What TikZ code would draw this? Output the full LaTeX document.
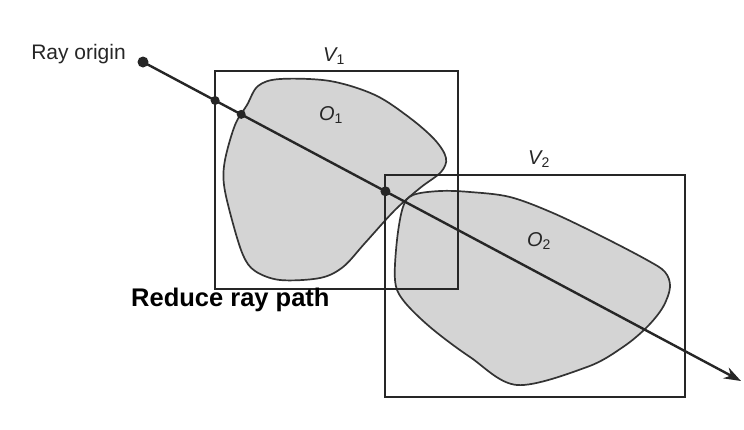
\documentclass[tikz,border=0pt]{standalone}
\usepackage{fontspec}
\setmainfont{Liberation Sans}
\usetikzlibrary{arrows.meta,calc}
\tikzset{
  vbox/.style={draw=black!85, line width=2.2pt, inner sep=0pt, fill=none},
  obj/.style={draw=black!80, line width=1.7pt},
  objfill/.style={fill=black!17},
  ray/.style={draw=black!85, line width=2.4pt, -{Stealth[length=17pt,width=12pt]}},
  hit/.style={circle, fill=black!85, inner sep=0pt, minimum size=#1},
  hit/.default=9pt,
  lbl/.style={font=\fontsize{20}{22}\selectfont\itshape, text=black!85, inner sep=1pt},
}
\begin{document}
\begin{tikzpicture}[x=1pt,y=-1pt]
\useasboundingbox (0,0) rectangle (744,429);
\fill[white] (0,0) rectangle (744,429);
% object outlines
\def\Oone{(247,105) (258,86) (280,79) (330,81) (375,95) (410,118) (435,140) (446,158) (441,172) (420,188) (395,210) (365,243) (343,267) (320,278) (280,280) (255,271) (243,255) (232,220) (224,185) (225,160) (235,125)}
\def\Otwo{(413,195) (440,191) (470,192) (510,197) (553,213) (603,237) (647,260) (665,272) (670,287) (663,307) (647,327) (623,347) (587,367) (517,385) (470,357) (430,327) (403,300) (395,280) (397,240) (403,207)}
\path[objfill] plot[smooth cycle, tension=0.55] coordinates {\Oone};
\path[objfill] plot[smooth cycle, tension=0.55] coordinates {\Otwo};
\draw[obj] plot[smooth cycle, tension=0.55] coordinates {\Oone};
\draw[obj] plot[smooth cycle, tension=0.55] coordinates {\Otwo};
% bounding volumes
\node[vbox, minimum width=243pt, minimum height=218pt] (V1) at (336.5,180) {};
\node[vbox, minimum width=300pt, minimum height=222pt] (V2) at (535,286) {};
\node[lbl] (V1l) at (334,56) {V\textsubscript{\upshape 1}};
\node[lbl] (V2l) at (539,159) {V\textsubscript{\upshape 2}};
\node[lbl] (O1l) at (331,115) {O\textsubscript{\upshape 1}};
\node[lbl] (O2l) at (539,241) {O\textsubscript{\upshape 2}};
% ray
\coordinate (origin) at (143,62);
\coordinate (tip) at (741,381);
\draw[ray] (origin) -- (tip);
\node[hit=11pt] (o) at (origin) {};
\node[hit] (h1) at ($(origin)!0.1206!(tip)$) {};
\node[hit] (h2) at ($(origin)!0.1642!(tip)$) {};
\node[hit=10pt] (h3) at ($(origin)!0.4054!(tip)$) {};
\node[anchor=east, font=\fontsize{21}{23}\selectfont, text=black!85, inner sep=0pt] (rolbl) at (126,54) {Ray origin};
\node[anchor=west, font=\fontsize{25.5}{28}\selectfont\bfseries, inner sep=0pt] (title) at (131,300) {Reduce ray path};
\end{tikzpicture}
\end{document}
